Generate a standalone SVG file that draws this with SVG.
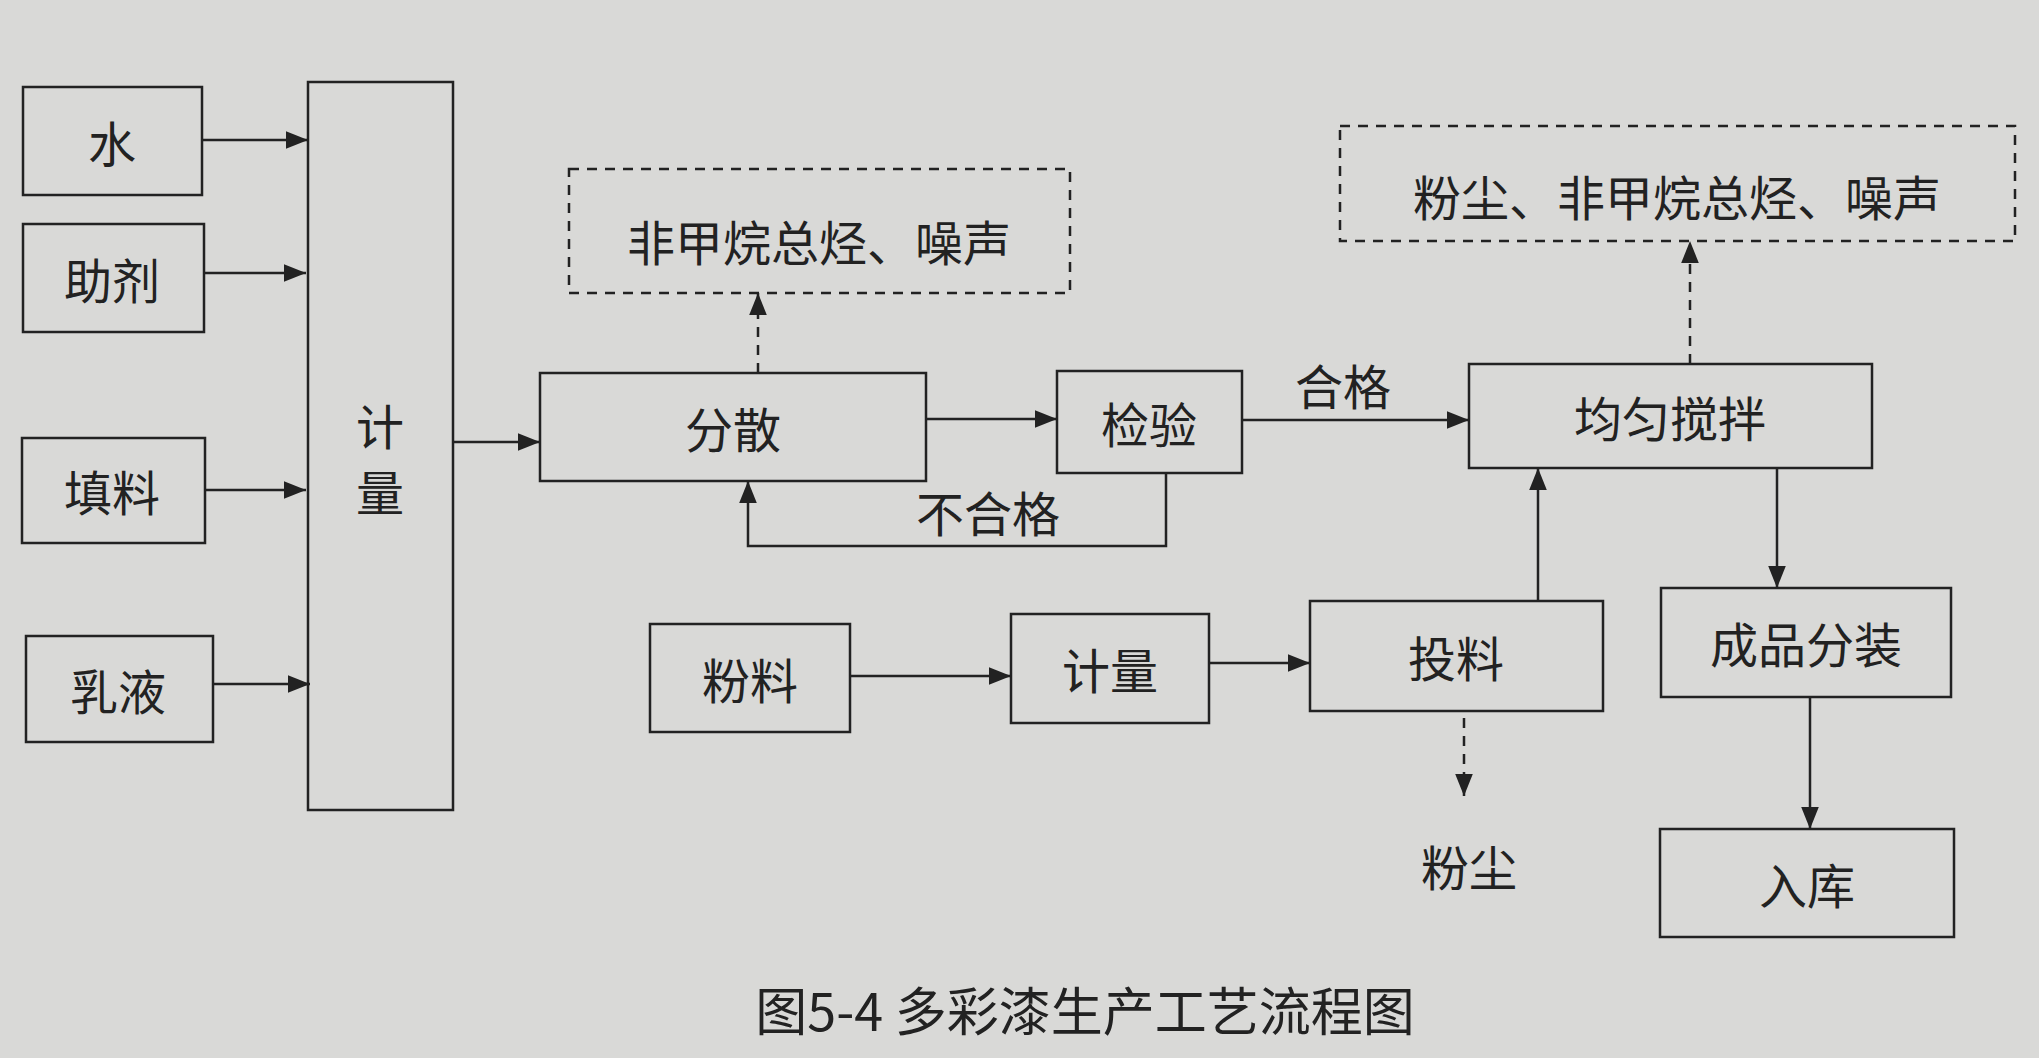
<svg xmlns="http://www.w3.org/2000/svg" width="2039" height="1058" viewBox="0 0 2039 1058">
<style>
.b{fill:none;stroke:#222;stroke-width:2.5}
.d{fill:none;stroke:#222;stroke-width:2.5;stroke-dasharray:10 8}
.t{font-family:"Noto Sans CJK SC","Noto Sans",sans-serif;font-size:48px;fill:#222;text-anchor:middle;dominant-baseline:central}
.c line,.c path{stroke:#222;stroke-width:2.5;fill:none}
</style>
<defs>
<marker id="m" viewBox="0 0 10 10" refX="10" refY="5" markerWidth="22" markerHeight="22" markerUnits="userSpaceOnUse" orient="auto"><path d="M0,1L10,5L0,9z" fill="#222"/></marker></defs>
<rect width="2039" height="1058" fill="#d9d9d7"/>
<g id="n1"><rect class="b" x="23" y="87" width="179" height="108"/><text class="t" x="112" y="141">水</text></g>
<g id="n2"><rect class="b" x="23" y="224" width="181" height="108"/><text class="t" x="112" y="278">助剂</text></g>
<g id="n3"><rect class="b" x="22" y="438" width="183" height="105"/><text class="t" x="112" y="490">填料</text></g>
<g id="n4"><rect class="b" x="26" y="636" width="187" height="106"/><text class="t" x="118" y="689">乳液</text></g>
<g id="n5"><rect class="b" x="308" y="82" width="145" height="728"/><text class="t" x="380" y="424">计</text><text class="t" x="380" y="490">量</text></g>
<g id="n6"><rect class="b" x="540" y="373" width="386" height="108"/><text class="t" x="733" y="427">分散</text></g>
<g id="n7"><rect class="b" x="1057" y="371" width="185" height="102"/><text class="t" x="1149" y="422">检验</text></g>
<g id="n8"><rect class="d" x="569" y="169" width="501" height="124"/><text class="t" x="819" y="240">非甲烷总烃、噪声</text></g>
<g id="n9"><rect class="b" x="1469" y="364" width="403" height="104"/><text class="t" x="1670" y="416">均匀搅拌</text></g>
<g id="n10"><rect class="d" x="1340" y="126" width="675" height="115"/><text class="t" x="1677" y="195">粉尘、非甲烷总烃、噪声</text></g>
<g id="n11"><rect class="b" x="650" y="624" width="200" height="108"/><text class="t" x="750" y="678">粉料</text></g>
<g id="n12"><rect class="b" x="1011" y="614" width="198" height="109"/><text class="t" x="1110" y="668">计量</text></g>
<g id="n13"><rect class="b" x="1310" y="601" width="293" height="110"/><text class="t" x="1456" y="656">投料</text></g>
<g id="n14"><rect class="b" x="1661" y="588" width="290" height="109"/><text class="t" x="1806" y="642">成品分装</text></g>
<g id="n15"><rect class="b" x="1660" y="829" width="294" height="108"/><text class="t" x="1807" y="883">入库</text></g>
<g id="n16"><text class="t" x="1469" y="865">粉尘</text></g>
<g class="c" id="edges">
<line x1="202" y1="140" x2="308" y2="140" marker-end="url(#m)"/>
<line x1="204" y1="273" x2="306" y2="273" marker-end="url(#m)"/>
<line x1="205" y1="490" x2="306" y2="490" marker-end="url(#m)"/>
<line x1="213" y1="684" x2="310" y2="684" marker-end="url(#m)"/>
<line x1="453" y1="442" x2="540" y2="442" marker-end="url(#m)"/>
<line x1="926" y1="419" x2="1057" y2="419" marker-end="url(#m)"/>
<line x1="1242" y1="420" x2="1469" y2="420" marker-end="url(#m)"/>
<path d="M1166,473V546H748V481" marker-end="url(#m)"/>
<line x1="758" y1="373" x2="758" y2="293" stroke-dasharray="10 8" marker-end="url(#m)"/>
<line x1="1690" y1="364" x2="1690" y2="241" stroke-dasharray="10 8" marker-end="url(#m)"/>
<line x1="850" y1="676" x2="1011" y2="676" marker-end="url(#m)"/>
<line x1="1209" y1="663" x2="1310" y2="663" marker-end="url(#m)"/>
<line x1="1538" y1="601" x2="1538" y2="468" marker-end="url(#m)"/>
<line x1="1464" y1="718" x2="1464" y2="796" stroke-dasharray="10 8" marker-end="url(#m)"/>
<line x1="1777" y1="468" x2="1777" y2="588" marker-end="url(#m)"/>
<line x1="1810" y1="697" x2="1810" y2="829" marker-end="url(#m)"/>
</g>
<text class="t" x="1343" y="384">合格</text>
<text class="t" x="988" y="511">不合格</text>
<text class="t" x="1085" y="1008" style="font-size:52px">图5-4  多彩漆生产工艺流程图</text>
</svg>
